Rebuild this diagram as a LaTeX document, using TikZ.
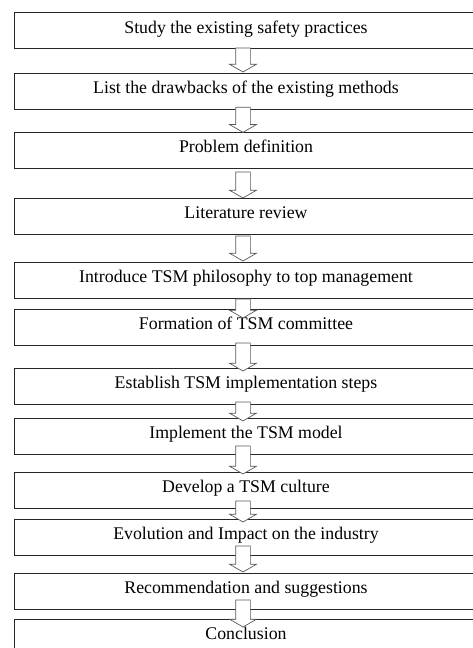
\documentclass[tikz,border=0pt]{standalone}
\usepackage{fontspec}
\setmainfont{Liberation Serif}
\usetikzlibrary{positioning}
\usetikzlibrary{shapes.arrows}
\tikzset{x=1pt, y=1pt,
stage/.style={
draw=black!85,
line width=0.8pt,
rectangle,
minimum width=464pt,
minimum height=36pt,
inner sep=0pt,
outer sep=0pt,
font=\fontsize{17.8}{20}\selectfont,
text height=0.7em,
text depth=0.22em},
downarrow/.style={
single arrow,
draw=black!65,
fill=white,
line width=0.7pt,
shape border rotate=270,
inner sep=7pt,
outer sep=0pt,
single arrow head extend=6pt,
single arrow tip angle=120,
anchor=tail}}

\begin{document}
\begin{tikzpicture}
\useasboundingbox (0,0) rectangle (472,-648);
\node[stage, anchor=north west] (study) at (14,-12.7) {Study the existing safety practices};
\node[stage, below=24.6pt of study] (drawbacks) {List the drawbacks of the existing methods};
\node[stage, below=22.7pt of drawbacks] (problem) {Problem definition};
\node[stage, below=30pt of problem] (review) {Literature review};
\node[stage, below=28pt of review] (introduce) {Introduce TSM philosophy to top management};
\node[stage, below=11pt of introduce] (committee) {Formation of TSM committee};
\node[stage, below=23pt of committee] (steps) {Establish TSM implementation steps};
\node[stage, below=14pt of steps] (model) {Implement the TSM model};
\node[stage, below=18pt of model] (culture) {Develop a TSM culture};
\node[stage, below=11pt of culture] (impact) {Evolution and Impact on the industry};
\node[stage, below=18pt of impact] (recommend) {Recommendation and suggestions};
\node[stage, below=10pt of recommend] (conclusion) {Conclusion};
% block arrows between the stages
\node[downarrow, minimum height=24pt] (a1) at ([xshift=-3pt, yshift=0.7pt]study.south) {};
\node[downarrow, minimum height=25pt] (a2) at ([xshift=-3pt, yshift=2pt]drawbacks.south) {};
\node[downarrow, minimum height=26pt] (a3) at ([xshift=-3pt, yshift=-4pt]problem.south) {};
\node[downarrow, minimum height=25pt] (a4) at ([xshift=-3pt, yshift=-2pt]review.south) {};
\node[downarrow, minimum height=19pt] (a5) at ([xshift=-3pt, yshift=-1pt]introduce.south) {};
\node[downarrow, minimum height=28pt] (a6) at ([xshift=-3pt, yshift=2pt]committee.south) {};
\node[downarrow, minimum height=18pt] (a7) at ([xshift=-3pt, yshift=2pt]steps.south) {};
\node[downarrow, minimum height=28pt] (a8) at ([xshift=-3pt, yshift=8pt]model.south) {};
\node[downarrow, minimum height=21pt] (a9) at ([xshift=-3pt, yshift=7pt]culture.south) {};
\node[downarrow, minimum height=26pt] (a10) at ([xshift=-3pt, yshift=9pt]impact.south) {};
\node[downarrow, minimum height=27pt] (a11) at ([xshift=-3pt, yshift=9pt]recommend.south) {};
\end{tikzpicture}
\end{document}
